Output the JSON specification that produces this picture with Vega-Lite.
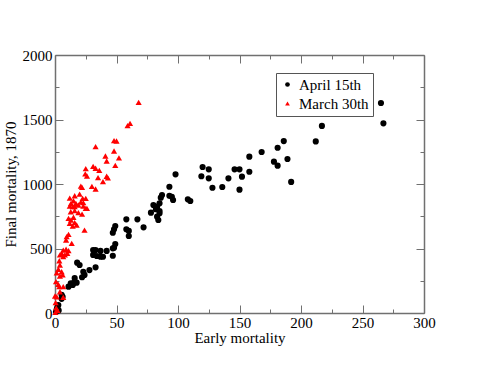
{
  "$schema": "https://vega.github.io/schema/vega-lite/v6.json",
  "width": 369,
  "height": 258,
  "autosize": "none",
  "padding": {"left": 55, "top": 55, "right": 67, "bottom": 66},
  "background": "white",
  "config": {
    "view": {"stroke": null},
    "font": "Liberation Serif",
    "style": {
      "guide-label": {"font": "Liberation Serif", "fontSize": 15, "fill": "black"},
      "guide-title": {"font": "Liberation Serif", "fontSize": 15, "fill": "black"}
    },
    "axis": {
      "domainColor": "#707070",
      "domainWidth": 1.5,
      "tickColor": "#707070",
      "tickWidth": 1,
      "grid": false,
      "labelFont": "Liberation Serif",
      "labelFontSize": 15,
      "labelColor": "black",
      "titleFont": "Liberation Serif",
      "titleFontSize": 15,
      "titleFontWeight": "normal",
      "titleColor": "black",
      "labelFlush": false,
      "labelOverlap": false
    }
  },
  "datasets": {
    "pts": [
      {"x": 265, "y": 1628, "series": "April 15th"},
      {"x": 267, "y": 1470, "series": "April 15th"},
      {"x": 217, "y": 1450, "series": "April 15th"},
      {"x": 212, "y": 1330, "series": "April 15th"},
      {"x": 186, "y": 1333, "series": "April 15th"},
      {"x": 181, "y": 1281, "series": "April 15th"},
      {"x": 189, "y": 1194, "series": "April 15th"},
      {"x": 178, "y": 1173, "series": "April 15th"},
      {"x": 181, "y": 1142, "series": "April 15th"},
      {"x": 192, "y": 1016, "series": "April 15th"},
      {"x": 168, "y": 1248, "series": "April 15th"},
      {"x": 158, "y": 1212, "series": "April 15th"},
      {"x": 158, "y": 1095, "series": "April 15th"},
      {"x": 146, "y": 1114, "series": "April 15th"},
      {"x": 150, "y": 1114, "series": "April 15th"},
      {"x": 152, "y": 1057, "series": "April 15th"},
      {"x": 150, "y": 956, "series": "April 15th"},
      {"x": 141, "y": 1044, "series": "April 15th"},
      {"x": 136, "y": 977, "series": "April 15th"},
      {"x": 128, "y": 971, "series": "April 15th"},
      {"x": 120, "y": 1132, "series": "April 15th"},
      {"x": 125, "y": 1114, "series": "April 15th"},
      {"x": 119, "y": 1060, "series": "April 15th"},
      {"x": 125, "y": 1044, "series": "April 15th"},
      {"x": 98, "y": 1075, "series": "April 15th"},
      {"x": 93, "y": 979, "series": "April 15th"},
      {"x": 108, "y": 881, "series": "April 15th"},
      {"x": 110, "y": 868, "series": "April 15th"},
      {"x": 95, "y": 901, "series": "April 15th"},
      {"x": 96, "y": 876, "series": "April 15th"},
      {"x": 87, "y": 915, "series": "April 15th"},
      {"x": 86, "y": 894, "series": "April 15th"},
      {"x": 93, "y": 909, "series": "April 15th"},
      {"x": 85, "y": 850, "series": "April 15th"},
      {"x": 83, "y": 824, "series": "April 15th"},
      {"x": 80, "y": 837, "series": "April 15th"},
      {"x": 78, "y": 778, "series": "April 15th"},
      {"x": 82, "y": 804, "series": "April 15th"},
      {"x": 85, "y": 791, "series": "April 15th"},
      {"x": 85, "y": 773, "series": "April 15th"},
      {"x": 83, "y": 747, "series": "April 15th"},
      {"x": 84, "y": 721, "series": "April 15th"},
      {"x": 72, "y": 664, "series": "April 15th"},
      {"x": 67, "y": 726, "series": "April 15th"},
      {"x": 58, "y": 726, "series": "April 15th"},
      {"x": 49, "y": 674, "series": "April 15th"},
      {"x": 48, "y": 649, "series": "April 15th"},
      {"x": 47, "y": 622, "series": "April 15th"},
      {"x": 58, "y": 649, "series": "April 15th"},
      {"x": 60, "y": 636, "series": "April 15th"},
      {"x": 60, "y": 597, "series": "April 15th"},
      {"x": 49, "y": 535, "series": "April 15th"},
      {"x": 48, "y": 506, "series": "April 15th"},
      {"x": 47, "y": 501, "series": "April 15th"},
      {"x": 42, "y": 481, "series": "April 15th"},
      {"x": 37, "y": 481, "series": "April 15th"},
      {"x": 39, "y": 436, "series": "April 15th"},
      {"x": 47, "y": 444, "series": "April 15th"},
      {"x": 31, "y": 488, "series": "April 15th"},
      {"x": 33, "y": 488, "series": "April 15th"},
      {"x": 31, "y": 450, "series": "April 15th"},
      {"x": 34, "y": 442, "series": "April 15th"},
      {"x": 37, "y": 437, "series": "April 15th"},
      {"x": 33, "y": 354, "series": "April 15th"},
      {"x": 28, "y": 333, "series": "April 15th"},
      {"x": 23, "y": 320, "series": "April 15th"},
      {"x": 22, "y": 277, "series": "April 15th"},
      {"x": 24, "y": 295, "series": "April 15th"},
      {"x": 18, "y": 390, "series": "April 15th"},
      {"x": 20, "y": 372, "series": "April 15th"},
      {"x": 16, "y": 270, "series": "April 15th"},
      {"x": 17.6, "y": 235, "series": "April 15th"},
      {"x": 15.4, "y": 235, "series": "April 15th"},
      {"x": 12.8, "y": 230, "series": "April 15th"},
      {"x": 14.4, "y": 217, "series": "April 15th"},
      {"x": 11, "y": 204, "series": "April 15th"},
      {"x": 5.4, "y": 140, "series": "April 15th"},
      {"x": 6.2, "y": 126, "series": "April 15th"},
      {"x": 5.4, "y": 110, "series": "April 15th"},
      {"x": 2.7, "y": 62, "series": "April 15th"},
      {"x": 1.9, "y": 44, "series": "April 15th"},
      {"x": 1.4, "y": 29, "series": "April 15th"},
      {"x": 0.8, "y": 10, "series": "April 15th"},
      {"x": 3, "y": 20, "series": "April 15th"},
      {"x": 68, "y": 1633, "series": "March 30th"},
      {"x": 61, "y": 1470, "series": "March 30th"},
      {"x": 59, "y": 1453, "series": "March 30th"},
      {"x": 48, "y": 1336, "series": "March 30th"},
      {"x": 50, "y": 1333, "series": "March 30th"},
      {"x": 33, "y": 1290, "series": "March 30th"},
      {"x": 48, "y": 1256, "series": "March 30th"},
      {"x": 41, "y": 1217, "series": "March 30th"},
      {"x": 52, "y": 1202, "series": "March 30th"},
      {"x": 42, "y": 1178, "series": "March 30th"},
      {"x": 49, "y": 1145, "series": "March 30th"},
      {"x": 31, "y": 1137, "series": "March 30th"},
      {"x": 33, "y": 1122, "series": "March 30th"},
      {"x": 36, "y": 1106, "series": "March 30th"},
      {"x": 25, "y": 1119, "series": "March 30th"},
      {"x": 24.6, "y": 1078, "series": "March 30th"},
      {"x": 26, "y": 1062, "series": "March 30th"},
      {"x": 35, "y": 1049, "series": "March 30th"},
      {"x": 42, "y": 1060, "series": "March 30th"},
      {"x": 43, "y": 1047, "series": "March 30th"},
      {"x": 39, "y": 1018, "series": "March 30th"},
      {"x": 30, "y": 982, "series": "March 30th"},
      {"x": 33, "y": 961, "series": "March 30th"},
      {"x": 21, "y": 984, "series": "March 30th"},
      {"x": 22, "y": 974, "series": "March 30th"},
      {"x": 16, "y": 909, "series": "March 30th"},
      {"x": 20, "y": 922, "series": "March 30th"},
      {"x": 12, "y": 891, "series": "March 30th"},
      {"x": 22.5, "y": 889, "series": "March 30th"},
      {"x": 25, "y": 889, "series": "March 30th"},
      {"x": 15, "y": 870, "series": "March 30th"},
      {"x": 21, "y": 860, "series": "March 30th"},
      {"x": 23, "y": 855, "series": "March 30th"},
      {"x": 13, "y": 850, "series": "March 30th"},
      {"x": 17, "y": 850, "series": "March 30th"},
      {"x": 19, "y": 837, "series": "March 30th"},
      {"x": 12, "y": 829, "series": "March 30th"},
      {"x": 14.4, "y": 824, "series": "March 30th"},
      {"x": 16, "y": 824, "series": "March 30th"},
      {"x": 23, "y": 829, "series": "March 30th"},
      {"x": 25, "y": 811, "series": "March 30th"},
      {"x": 26, "y": 811, "series": "March 30th"},
      {"x": 12.8, "y": 785, "series": "March 30th"},
      {"x": 16, "y": 793, "series": "March 30th"},
      {"x": 19, "y": 778, "series": "March 30th"},
      {"x": 22, "y": 767, "series": "March 30th"},
      {"x": 11, "y": 734, "series": "March 30th"},
      {"x": 15, "y": 742, "series": "March 30th"},
      {"x": 13, "y": 721, "series": "March 30th"},
      {"x": 12, "y": 695, "series": "March 30th"},
      {"x": 16, "y": 700, "series": "March 30th"},
      {"x": 17.6, "y": 682, "series": "March 30th"},
      {"x": 14.4, "y": 674, "series": "March 30th"},
      {"x": 24, "y": 643, "series": "March 30th"},
      {"x": 11, "y": 610, "series": "March 30th"},
      {"x": 9.5, "y": 592, "series": "March 30th"},
      {"x": 9, "y": 566, "series": "March 30th"},
      {"x": 13.6, "y": 540, "series": "March 30th"},
      {"x": 6.7, "y": 488, "series": "March 30th"},
      {"x": 9, "y": 494, "series": "March 30th"},
      {"x": 11, "y": 483, "series": "March 30th"},
      {"x": 5.4, "y": 463, "series": "March 30th"},
      {"x": 4, "y": 450, "series": "March 30th"},
      {"x": 8, "y": 450, "series": "March 30th"},
      {"x": 6.7, "y": 437, "series": "March 30th"},
      {"x": 10, "y": 463, "series": "March 30th"},
      {"x": 3.5, "y": 405, "series": "March 30th"},
      {"x": 4, "y": 372, "series": "March 30th"},
      {"x": 2.7, "y": 339, "series": "March 30th"},
      {"x": 1.4, "y": 312, "series": "March 30th"},
      {"x": 5.4, "y": 320, "series": "March 30th"},
      {"x": 6.2, "y": 295, "series": "March 30th"},
      {"x": 4, "y": 287, "series": "March 30th"},
      {"x": 0.8, "y": 243, "series": "March 30th"},
      {"x": 2.7, "y": 222, "series": "March 30th"},
      {"x": 3.5, "y": 204, "series": "March 30th"},
      {"x": 6.7, "y": 204, "series": "March 30th"},
      {"x": 4, "y": 165, "series": "March 30th"},
      {"x": 6.7, "y": 122, "series": "March 30th"},
      {"x": 0, "y": 132, "series": "March 30th"},
      {"x": 1.4, "y": 126, "series": "March 30th"},
      {"x": 0.5, "y": 80, "series": "March 30th"},
      {"x": 1, "y": 40, "series": "March 30th"},
      {"x": 2, "y": 20, "series": "March 30th"},
      {"x": 0.3, "y": 5, "series": "March 30th"}
    ]
  },
  "data": {"name": "pts"},
  "layer": [
    {
      "mark": {"type": "point", "filled": true, "opacity": 1, "size": 38},
      "encoding": {
        "x": {
          "field": "x",
          "type": "quantitative",
          "scale": {"domain": [0, 300], "nice": false, "zero": false},
          "axis": {
            "orient": "bottom",
            "title": "Early mortality",
            "format": "d",
            "values": [0, 25, 50, 75, 100, 125, 150, 175, 200, 225, 250, 275, 300],
            "labelExpr": "datum.value % 50 === 0 ? datum.label : ''",
            "labelFont": "Liberation Serif",
            "labelFontSize": 15,
            "tickSize": {"condition": {"test": "datum.value % 50 === 0", "value": -8}, "value": -4},
            "labelPadding": 10,
            "titlePadding": -4
          }
        },
        "y": {
          "field": "y",
          "type": "quantitative",
          "scale": {"domain": [0, 2000], "nice": false, "zero": false},
          "axis": {
            "orient": "left",
            "title": "Final mortality, 1870",
            "format": "d",
            "values": [0, 250, 500, 750, 1000, 1250, 1500, 1750, 2000],
            "labelExpr": "datum.value % 500 === 0 ? datum.label : ''",
            "labelFont": "Liberation Serif",
            "labelFontSize": 15,
            "tickSize": {"condition": {"test": "datum.value % 500 === 0", "value": -8}, "value": -4},
            "labelPadding": 11,
            "titlePadding": 4
          }
        },
        "color": {
          "field": "series",
          "type": "nominal",
          "scale": {"domain": ["April 15th", "March 30th"], "range": ["black", "red"]},
          "legend": {
            "title": null,
            "orient": "none",
            "legendX": 221,
            "legendY": 18,
            "strokeColor": "#555555",
            "fillColor": "white",
            "padding": 4,
            "labelFont": "Liberation Serif",
            "labelFontSize": 15,
            "labelColor": "black",
            "symbolSize": 22,
            "rowPadding": 3
          }
        },
        "shape": {
          "field": "series",
          "type": "nominal",
          "scale": {"domain": ["April 15th", "March 30th"], "range": ["circle", "triangle-up"]}
        }
      }
    },
    {
      "mark": {"type": "point", "opacity": 0},
      "encoding": {
        "x": {
          "field": "x",
          "type": "quantitative",
          "axis": {
            "orient": "top",
            "title": null,
            "labels": false,
            "values": [0, 25, 50, 75, 100, 125, 150, 175, 200, 225, 250, 275, 300],
            "tickSize": {"condition": {"test": "datum.value % 50 === 0", "value": -8}, "value": -4}
          }
        },
        "y": {
          "field": "y",
          "type": "quantitative",
          "axis": {
            "orient": "right",
            "title": null,
            "labels": false,
            "values": [0, 250, 500, 750, 1000, 1250, 1500, 1750, 2000],
            "tickSize": {"condition": {"test": "datum.value % 500 === 0", "value": -8}, "value": -4}
          }
        }
      }
    }
  ],
  "resolve": {"axis": {"x": "independent", "y": "independent"}}
}
